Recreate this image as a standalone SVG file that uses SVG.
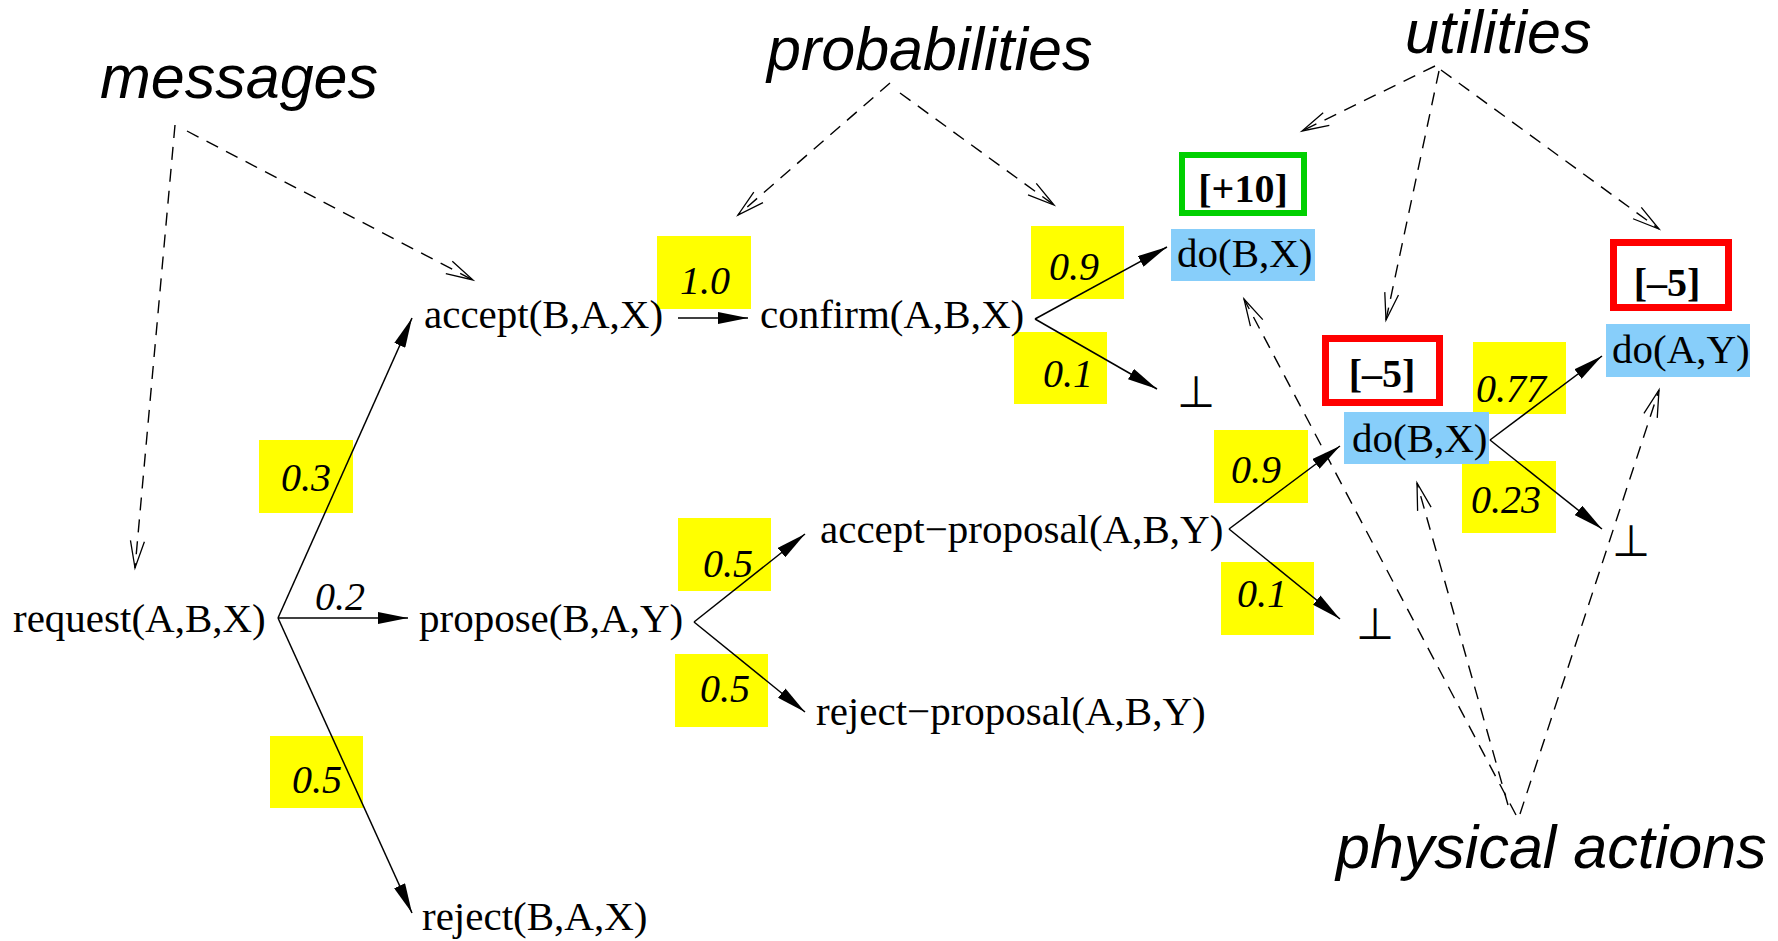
<svg xmlns="http://www.w3.org/2000/svg" width="1778" height="941" viewBox="0 0 1778 941">
  <style>
    .msg { font-family: "Liberation Serif", "Times New Roman", serif; font-size: 41px; fill: #000; }
    .prob { font-family: "Liberation Serif", "Times New Roman", serif; font-style: italic; font-size: 40px; fill: #000; }
    .util { font-family: "Liberation Serif", "Times New Roman", serif; font-size: 40px; font-weight: bold; fill: #000; text-anchor: middle; }
    .note { font-family: "Liberation Sans", Arial, sans-serif; font-style: italic; font-size: 61px; fill: #000; }
    .bot { font-family: "DejaVu Sans", sans-serif; font-size: 44px; fill: #000; text-anchor: middle; }
    .pbox { fill: #ffff00; stroke: none; }
    .abox { fill: #87cefa; stroke: none; }
    .good { fill: none; stroke: #00d000; stroke-width: 6; }
    .bad { fill: none; stroke: #ff0000; stroke-width: 7; }
    .edge { fill: none; stroke: #000; stroke-width: 1.5; marker-end: url(#solid); }
    .hint { fill: none; stroke: #000; stroke-width: 1.4; stroke-dasharray: 13 9; marker-end: url(#open); }
  </style>
  <defs>
    <marker id="solid" markerUnits="userSpaceOnUse" viewBox="0 0 30 12" markerWidth="30" markerHeight="12" refX="30" refY="6" orient="auto">
      <path d="M0,0 L30,6 L0,12 z" fill="#000"/>
    </marker>
    <marker id="open" markerUnits="userSpaceOnUse" viewBox="-2 -2 32 18" markerWidth="32" markerHeight="18" refX="27" refY="7" orient="auto">
      <path d="M0,0 L27,7 L0,14" fill="none" stroke="#000" stroke-width="1.3" stroke-dasharray="none"/>
    </marker>
  </defs>

  <rect width="1778" height="941" fill="#fff"/>

  <!-- probability tags -->
  <g id="probabilities-tags">
    <rect class="pbox" x="657" y="236" width="94" height="73"/>
    <rect class="pbox" x="1031" y="226" width="93" height="73"/>
    <rect class="pbox" x="1014" y="332" width="93" height="72"/>
    <rect class="pbox" x="259" y="440" width="94" height="73"/>
    <rect class="pbox" x="270" y="736" width="93" height="72"/>
    <rect class="pbox" x="678" y="518" width="93" height="73"/>
    <rect class="pbox" x="675" y="654" width="93" height="73"/>
    <rect class="pbox" x="1214" y="430" width="94" height="73"/>
    <rect class="pbox" x="1221" y="562" width="93" height="73"/>
    <rect class="pbox" x="1473" y="342" width="93" height="72"/>
    <rect class="pbox" x="1462" y="461" width="94" height="72"/>
  </g>

  <!-- message nodes -->
  <g id="request"><text class="msg" x="13" y="632">request(A,B,X)</text></g>
  <g id="accept"><text class="msg" x="424" y="328">accept(B,A,X)</text></g>
  <g id="propose"><text class="msg" x="419" y="632">propose(B,A,Y)</text></g>
  <g id="reject"><text class="msg" x="422" y="930">reject(B,A,X)</text></g>
  <g id="confirm"><text class="msg" x="760" y="328">confirm(A,B,X)</text></g>
  <g id="accept-proposal"><text class="msg" x="820" y="543">accept−proposal(A,B,Y)</text></g>
  <g id="reject-proposal"><text class="msg" x="816" y="725">reject−proposal(A,B,Y)</text></g>

  <!-- physical action nodes with their utilities -->
  <g id="do-BX-1">
    <rect class="abox" x="1171" y="229" width="144" height="52"/>
    <text class="msg" x="1177" y="267">do(B,X)</text>
    <rect class="good" x="1182" y="155" width="122" height="58"/>
    <text class="util" x="1243" y="202">[+10]</text>
  </g>
  <g id="do-BX-2">
    <rect class="abox" x="1344" y="412" width="145" height="52"/>
    <text class="msg" x="1352" y="452">do(B,X)</text>
    <rect class="bad" x="1325.5" y="338.5" width="114" height="64"/>
    <text class="util" x="1382" y="387">[–5]</text>
  </g>
  <g id="do-AY">
    <rect class="abox" x="1606" y="324" width="144" height="53"/>
    <text class="msg" x="1612" y="363">do(A,Y)</text>
    <rect class="bad" x="1613.5" y="242.5" width="115" height="65"/>
    <text class="util" x="1667" y="296">[–5]</text>
  </g>

  <!-- failure outcomes -->
  <g id="fail-1"><text class="bot" x="1196" y="407">⊥</text></g>
  <g id="fail-2"><text class="bot" x="1375" y="639">⊥</text></g>
  <g id="fail-3"><text class="bot" x="1631" y="556">⊥</text></g>

  <!-- annotation labels -->
  <g id="label-messages"><text class="note" x="100" y="98">messages</text></g>
  <g id="label-probabilities"><text class="note" x="767" y="70">probabilities</text></g>
  <g id="label-utilities"><text class="note" x="1405" y="53">utilities</text></g>
  <g id="label-physical"><text class="note" x="1336" y="868">physical actions</text></g>

  <!-- transitions and annotation pointers -->
  <g id="connectors">
    <line class="edge" x1="278" y1="618" x2="412" y2="318"/>
    <line class="edge" x1="278" y1="618" x2="408" y2="618"/>
    <line class="edge" x1="278" y1="618" x2="412" y2="913"/>
    <line class="edge" x1="678" y1="318" x2="748" y2="318"/>
    <line class="edge" x1="1035" y1="319" x2="1167" y2="247"/>
    <line class="edge" x1="1035" y1="319" x2="1157" y2="389"/>
    <line class="edge" x1="694" y1="622" x2="805" y2="534"/>
    <line class="edge" x1="694" y1="622" x2="805" y2="712"/>
    <line class="edge" x1="1229" y1="529" x2="1340" y2="446"/>
    <line class="edge" x1="1229" y1="529" x2="1340" y2="619"/>
    <line class="edge" x1="1490" y1="440" x2="1602" y2="356"/>
    <line class="edge" x1="1490" y1="440" x2="1602" y2="529"/>

    <line class="hint" x1="175" y1="125" x2="135" y2="568"/>
    <line class="hint" x1="187" y1="131" x2="473" y2="280"/>
    <line class="hint" x1="890" y1="83" x2="738" y2="215"/>
    <line class="hint" x1="900" y1="93" x2="1054" y2="205"/>
    <line class="hint" x1="1435" y1="66" x2="1302" y2="131"/>
    <line class="hint" x1="1439" y1="71" x2="1386" y2="320"/>
    <line class="hint" x1="1441" y1="70" x2="1659" y2="229"/>
    <line class="hint" x1="1516" y1="815" x2="1244" y2="299"/>
    <line class="hint" x1="1508" y1="805" x2="1417" y2="483"/>
    <line class="hint" x1="1520" y1="814" x2="1659" y2="390"/>
  </g>

  <!-- probability values -->
  <g id="probability-values">
    <text class="prob" x="680" y="294">1.0</text>
    <text class="prob" x="1049" y="280">0.9</text>
    <text class="prob" x="1043" y="387">0.1</text>
    <text class="prob" x="281" y="491">0.3</text>
    <text class="prob" x="315" y="610">0.2</text>
    <text class="prob" x="292" y="793">0.5</text>
    <text class="prob" x="703" y="577">0.5</text>
    <text class="prob" x="700" y="702">0.5</text>
    <text class="prob" x="1231" y="483">0.9</text>
    <text class="prob" x="1237" y="607">0.1</text>
    <text class="prob" x="1476" y="402">0.77</text>
    <text class="prob" x="1471" y="513">0.23</text>
  </g>
</svg>
